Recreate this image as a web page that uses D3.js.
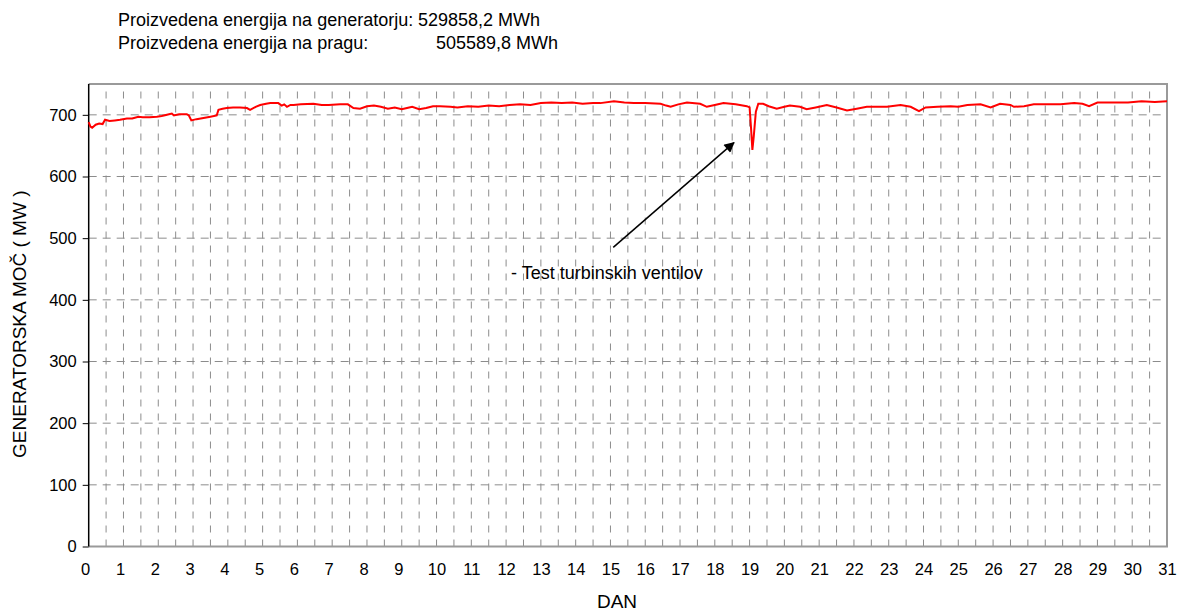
<!DOCTYPE html>
<html>
<head>
<meta charset="utf-8">
<script src="https://cdn.jsdelivr.net/npm/d3@7"></script>
<style>
  body { margin: 0; background: #fff; }
  svg { font-family: Arial, "Liberation Sans", sans-serif; }
</style>
</head>
<body>
<svg id="chart" width="1178" height="612"></svg>
<script>
// generator power over the month (day, MW)
var days = [0.00,0.05,0.10,0.20,0.30,0.40,0.47,0.60,0.75,0.90,1.10,1.25,1.43,1.55,1.75,1.96,2.10,2.25,2.39,2.45,2.60,2.82,2.88,2.95,3.10,3.30,3.50,3.68,3.73,3.85,3.97,4.15,4.35,4.55,4.64,4.80,4.93,5.10,5.22,5.45,5.55,5.62,5.70,5.80,5.89,6.10,6.46,6.70,6.90,7.23,7.45,7.61,7.80,8.00,8.20,8.40,8.60,8.80,9.00,9.15,9.30,9.50,9.70,9.90,10.10,10.40,10.60,10.90,11.20,11.50,11.80,12.10,12.40,12.70,13.00,13.30,13.60,13.90,14.20,14.50,14.71,15.10,15.40,15.67,16.00,16.44,16.60,16.73,16.95,17.20,17.58,17.77,18.00,18.25,18.60,18.92,19.00,19.04,19.08,19.12,19.18,19.25,19.39,19.55,19.78,20.00,20.16,20.45,20.64,20.90,21.22,21.50,21.80,22.08,22.37,22.65,22.95,23.34,23.63,23.87,24.06,24.40,24.78,25.00,25.26,25.64,25.93,26.20,26.50,26.60,26.89,27.17,27.56,27.94,28.33,28.57,28.76,29.00,29.50,29.88,30.27,30.65,31.00];
var power = [688,681,679,684,686,685,692,690,691,692,694,694,697,696,696,697,698,700,702,699,701,701,699,691,693,695,697,699,708,710,711,712,712,711,708,713,716,718,719,719,715,717,713,716,716,717,718,716,716,717,717,711,710,714,715,713,710,712,709,711,713,709,711,714,714,713,712,714,713,715,714,716,717,716,719,720,719,720,718,719,719,722,720,719,719,718,715,713,717,720,718,713,716,719,717,714,712,680,643,665,705,718,718,714,710,713,715,713,709,712,716,712,707,710,713,713,713,716,713,706,712,713,714,713,716,717,712,718,716,713,714,717,717,717,719,718,714,720,720,720,722,721,722];

var dayTicks = d3.range(0, 32);
var mwTicks = [0, 100, 200, 300, 400, 500, 600, 700];
var infoLines = ["Proizvedena energija na generatorju:", "Proizvedena energija na pragu:"];
var infoValues = ["529858,2 MWh", "505589,8 MWh"];
var note = "- Test turbinskih ventilov";

var svg = d3.select('#chart');
var pLeft = 88.7, pRight = 1167, pTop = 84, pBottom = 546.5;

var x = d3.scaleLinear().domain([0, 31]).range([pLeft, pRight]);
var y = d3.scaleLinear().domain([0, 750]).range([pBottom, pTop]);

// vertical grid every half day
svg.append('g')
    .selectAll('line')
    .data(d3.range(1, 62).map(function(i) { return i / 2; }))
    .enter().append('line')
    .attr('x1', function(d) { return x(d); })
    .attr('x2', function(d) { return x(d); })
    .attr('y1', pBottom)
    .attr('y2', pTop)
    .attr('stroke', '#8c8c8c')
    .attr('stroke-width', 1)
    .attr('stroke-dasharray', '7,7');

// horizontal grid
svg.append('g')
    .selectAll('line')
    .data(mwTicks.slice(1))
    .enter().append('line')
    .attr('x1', pLeft)
    .attr('x2', pRight)
    .attr('y1', function(d) { return y(d); })
    .attr('y2', function(d) { return y(d); })
    .attr('stroke', '#8c8c8c')
    .attr('stroke-width', 1)
    .attr('stroke-dasharray', '8,6');

// frame top / right / bottom
svg.append('path')
    .attr('d', 'M' + pLeft + ',' + pTop + 'H' + pRight + 'V' + pBottom + 'H' + pLeft)
    .attr('fill', 'none')
    .attr('stroke', '#9a9a9a')
    .attr('stroke-width', 2);

// y axis
var yAxis = d3.axisLeft(y).tickValues(mwTicks).tickSize(6).tickPadding(6);
var gy = svg.append('g').attr('transform', 'translate(' + pLeft + ',0)').call(yAxis);
gy.select('.domain').attr('stroke', '#000').attr('stroke-width', 1.5)
    .attr('d', 'M0,' + pTop + 'V' + pBottom);
gy.selectAll('.tick line').attr('stroke', '#000');
gy.selectAll('text').attr('font-size', 16.5).attr('fill', '#000')
    .attr('font-family', 'Arial, "Liberation Sans", sans-serif');

// x axis labels
var xAxis = d3.axisBottom(x).tickValues(dayTicks).tickSize(0).tickPadding(17);
var gx = svg.append('g').attr('transform', 'translate(0,' + pBottom + ')').call(xAxis);
gx.select('.domain').remove();
gx.selectAll('text').attr('font-size', 16.5).attr('fill', '#000')
    .attr('dx', function(d) { return d < 10 ? -3.5 : 0; })
    .attr('font-family', 'Arial, "Liberation Sans", sans-serif');

// power line
var line = d3.line()
    .x(function(d, i) { return x(days[i]); })
    .y(function(d) { return y(d); });
svg.append('path')
    .datum(power)
    .attr('d', line)
    .attr('fill', 'none')
    .attr('stroke', '#ff0000')
    .attr('stroke-width', 2);

// annotation arrow
svg.append('defs').append('marker')
    .attr('id', 'arr')
    .attr('viewBox', '0 0 10 10')
    .attr('refX', 9).attr('refY', 5)
    .attr('markerWidth', 9).attr('markerHeight', 7)
    .attr('orient', 'auto')
    .append('path').attr('d', 'M0,0L10,5L0,10z').attr('fill', '#000');

svg.append('line')
    .attr('x1', x(15.08)).attr('y1', y(485))
    .attr('x2', x(18.55)).attr('y2', y(655))
    .attr('stroke', '#000').attr('stroke-width', 1.5)
    .attr('marker-end', 'url(#arr)');

svg.append('text')
    .attr('x', 511).attr('y', 279)
    .attr('font-size', 18)
    .text(note);

// info lines on top
svg.selectAll('.info')
    .data(infoLines)
    .enter().append('text')
    .attr('class', 'info')
    .attr('x', 118)
    .attr('y', function(d, i) { return 26 + i * 23; })
    .attr('font-size', 18)
    .text(function(d) { return d; });
svg.selectAll('.infoval')
    .data(infoValues)
    .enter().append('text')
    .attr('class', 'infoval')
    .attr('x', function(d, i) { return i === 0 ? 418 : 436; })
    .attr('y', function(d, i) { return 26 + i * 23; })
    .attr('font-size', 18)
    .text(function(d) { return d; });

// axis titles
svg.append('text')
    .attr('transform', 'translate(26,' + ((pTop + pBottom) / 2 + 9) + ') rotate(-90)')
    .attr('text-anchor', 'middle')
    .attr('font-size', 19)
    .text('GENERATORSKA MOČ ( MW )');

svg.append('text')
    .attr('x', 617)
    .attr('y', 608)
    .attr('text-anchor', 'middle')
    .attr('font-size', 19)
    .text('DAN');
</script>
</body>
</html>
